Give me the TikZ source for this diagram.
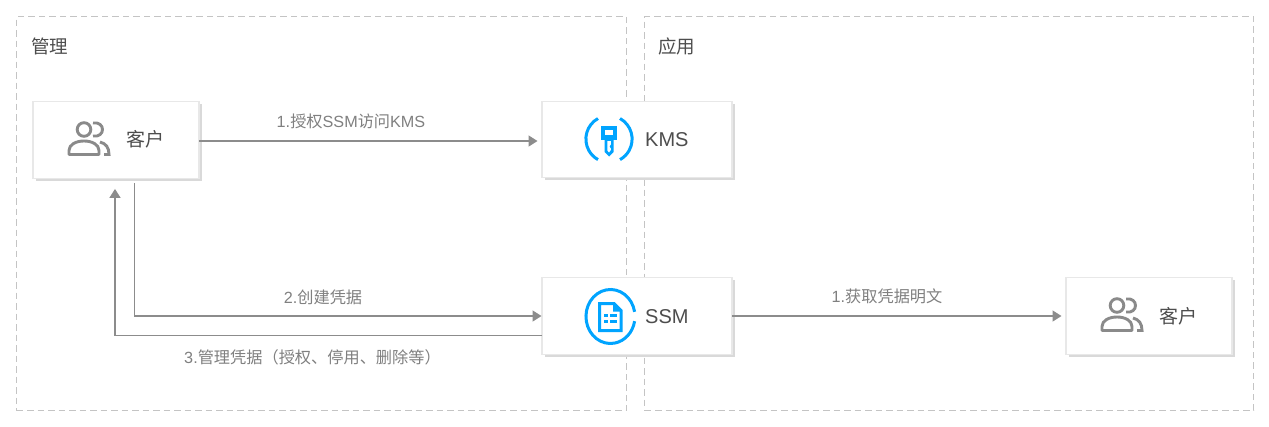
\documentclass[tikz,border=0pt]{standalone}
\usepackage{fontspec}
\setmainfont{Liberation Sans}
\newfontfamily\cjkf{Noto Sans CJK SC}
\newcommand{\cj}[1]{{\cjkf #1}}
\usetikzlibrary{arrows.meta,shadows}
\definecolor{framegray}{HTML}{C4C4C4}
\definecolor{boxedge}{HTML}{E8E8E8}
\definecolor{boxshadow}{HTML}{D9D9D9}
\definecolor{linegray}{HTML}{8C8C8C}
\definecolor{labelgray}{HTML}{808080}
\definecolor{darktext}{HTML}{4D4D4D}
\definecolor{iconblue}{HTML}{00A4FF}
\definecolor{icongray}{HTML}{8A8A8A}
\tikzset{
  zone/.style={draw=framegray,line width=1.1pt,dash pattern=on 6.5pt off 4pt,anchor=north west,inner sep=0,outer sep=0,minimum width=#1,minimum height=394pt},
  card/.style={draw=boxedge,line width=1.4pt,fill=white,inner sep=0,outer sep=0,minimum height=76.5pt,minimum width=#1,
    copy shadow={shadow xshift=2.5pt,shadow yshift=-2.5pt,fill=boxshadow,draw=none,opacity=1}},
  flow/.style={draw=linegray,line width=1.5pt,-{Triangle[length=9pt,width=11pt]}},
  zonetitle/.style={text=darktext,font=\fontsize{18.5}{20}\selectfont,inner sep=0},
  cardname/.style={text=darktext,font=\fontsize{19}{20}\selectfont,inner sep=0},
  latinname/.style={text=darktext,font=\fontsize{20}{22}\selectfont,inner sep=0},
  flowlabel/.style={text=labelgray,font=\fontsize{16.2}{18}\selectfont,inner sep=0},
  people/.pic={
    \draw[icongray,line width=2.9pt] (0,0) circle[radius=6.8pt];
    \draw[icongray,line width=2.9pt,line join=round] (-15,25) -- (-15,21) .. controls (-15,15) and (-8,11.5) .. (0,11.5) .. controls (8,11.5) and (15,15) .. (15,21) -- (15,25) -- cycle;
    \draw[icongray,line width=2.9pt] (9,-6.5) .. controls (15,-7.5) and (18.5,-4) .. (18.5,0) .. controls (18.5,4) and (15,7.5) .. (9,6.5);
    \draw[icongray,line width=2.9pt] (16,12.5) .. controls (22,14) and (25,18) .. (25,25) -- (20,25);
  }
}
\begin{document}
\begin{tikzpicture}[x=1pt,y=-1pt]
\useasboundingbox (0,0) rectangle (1269,426);
\fill[white] (0,0) rectangle (1269,426);
\node[zone=610pt] (mgmt) at (16.5,16.5) {};
\node[zone=609pt] (app) at (644.5,16.5) {};
\node[zonetitle,anchor=west] (mgmttitle) at (31,46) {\cj{管理}};
\node[zonetitle,anchor=west] (apptitle) at (658,46) {\cj{应用}};

\node[card=166pt] (cust) at (116,140) {};
\node[card=190pt] (kms) at (637,139.5) {};
\node[card=190pt] (ssm) at (637,316) {};
\node[card=166pt] (user) at (1149,316) {};

\pic at (84,129.5) {people};
\pic at (1117,305.5) {people};
\node[cardname] (custname) at (145,139) {\cj{客户}};
\node[cardname] (username) at (1178,316) {\cj{客户}};
\node[latinname,anchor=west] (kmsname) at (645,139.5) {KMS};
\node[latinname,anchor=west] (ssmname) at (645,316.5) {SSM};

% KMS icon
\draw[iconblue,line width=3pt] (598,118.5) arc[start angle=119,end angle=241,radius=23.5pt];
\draw[iconblue,line width=3pt] (620,118.5) arc[start angle=61,end angle=-61,radius=23.5pt];
\fill[iconblue] (601,126) rectangle (617,140);
\fill[white] (604.8,129.5) rectangle (613.2,134.5);
\fill[iconblue] (604.5,140) -- (613.5,140) -- (613.5,152) -- (609,156.5) -- (604.5,152) -- cycle;
\fill[white] (607.4,141) -- (610.8,141) -- (610.8,144.5) -- (609.4,146.5) -- (610.8,148.5) -- (610.8,150) -- (609,152.5) -- (607.4,150.5) -- cycle;

% SSM icon
\draw[iconblue,line width=3pt] (634.6,311.8) arc[x radius=24.5pt,y radius=27pt,start angle=10,end angle=350];
\draw[iconblue,line width=3pt,line join=miter] (599.5,303.5) -- (614,303.5) -- (621,310.5) -- (621,330.5) -- (599.5,330.5) -- cycle;
\fill[iconblue] (613,303.5) -- (621,311.5) -- (613,311.5) -- cycle;
\fill[iconblue] (604,314) rectangle (608,317);
\fill[iconblue] (610,314) rectangle (617,317);
\fill[iconblue] (604,320) rectangle (608,323);
\fill[iconblue] (610,320) rectangle (617,323);

\coordinate (c2start) at ([xshift=18.3pt,yshift=-5pt]cust.south);
\coordinate (c3end) at ([xshift=-1pt,yshift=-10.7pt]cust.south);
\coordinate (ssmlow) at ([yshift=-19.5pt]ssm.west);
\coordinate (kmsin) at ([xshift=-4.5pt,yshift=-1.5pt]kms.west);
\coordinate (ssmin) at ([xshift=-0.5pt]ssm.west);

\draw[flow] (cust.east |- kmsin) -- (kmsin);
\draw[flow] (c2start) |- (ssmin);
\draw[flow] (ssmlow) -| (c3end);
\draw[flow] (ssm.east) -- ([xshift=-4.5pt]user.west);
\node[flowlabel] (l1) at (351,121) {1.\cj{授权}SSM\cj{访问}KMS};
\node[flowlabel] (l2) at (323,297) {2.\cj{创建凭据}};
\node[flowlabel] (l3) at (312.5,357) {3.\cj{管理凭据（授权、停用、删除等）}};
\node[flowlabel] (l4) at (887,296) {1.\cj{获取凭据明文}};
\end{tikzpicture}
\end{document}
